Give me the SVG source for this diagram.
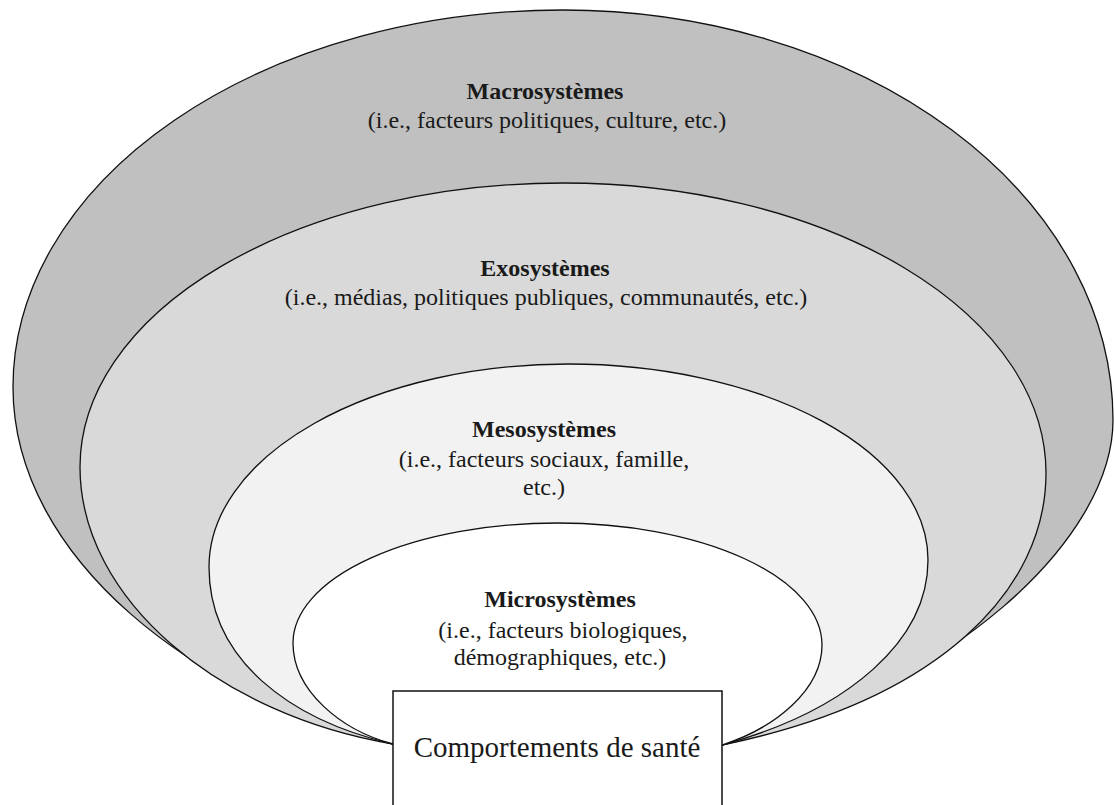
<svg xmlns="http://www.w3.org/2000/svg" width="1114" height="805" viewBox="0 0 1114 805">
<style>
.layer{stroke:#111;stroke-width:1.3;}
.t{font-family:"Liberation Serif","Times New Roman",serif;font-size:24px;fill:#1a1a1a;text-anchor:middle;}
.b{font-weight:bold;}
</style>
<rect width="1114" height="805" fill="#fff"/>
<g id="macro">
<path class="layer" fill="#c0c0c0" d="M393,744 C200,700 13,560 13,387 A550,377 0 0 1 563,10 A550,410 0 0 1 1113,420 C1113,540 950,690 722,745 Z"/>
<text class="t b" x="545" y="99">Macrosystèmes</text>
<text class="t" x="547" y="128">(i.e., facteurs politiques, culture, etc.)</text>
</g>
<g id="exo">
<path class="layer" fill="#d9d9d9" d="M393,744 C220,715 80,600 80,467 A483,284 0 0 1 563,183 A483,290 0 0 1 1046,473 C1046,590 940,700 722,745 Z"/>
<text class="t b" x="545" y="276">Exosystèmes</text>
<text class="t" x="546" y="305">(i.e., médias, politiques publiques, communautés, etc.)</text>
</g>
<g id="meso">
<path class="layer" fill="#f2f2f2" d="M393,744 C290,720 209,660 209,567 A359,203 0 0 1 568,364 A360,196 0 0 1 928,560 C928,640 850,710 722,745 Z"/>
<text class="t b" x="544" y="437">Mesosystèmes</text>
<text class="t" x="544" y="467">(i.e., facteurs sociaux, famille,</text>
<text class="t" x="544" y="495">etc.)</text>
</g>
<g id="micro">
<path class="layer" fill="#ffffff" d="M393,744 C340,730 293,690 293,643 A265,120 0 0 1 558,523 A264,122 0 0 1 822,645 C822,690 775,728 722,745 Z"/>
<text class="t b" x="560" y="607">Microsystèmes</text>
<text class="t" x="563" y="638">(i.e., facteurs biologiques,</text>
<text class="t" x="560" y="665">démographiques, etc.)</text>
</g>
<g id="connectors"></g>
<g id="comportements">
<rect x="393" y="691" width="329" height="130" fill="#fff" stroke="#111" stroke-width="1.5"/>
<text class="t" x="557" y="757" style="font-size:29px">Comportements de santé</text>
</g>
</svg>
